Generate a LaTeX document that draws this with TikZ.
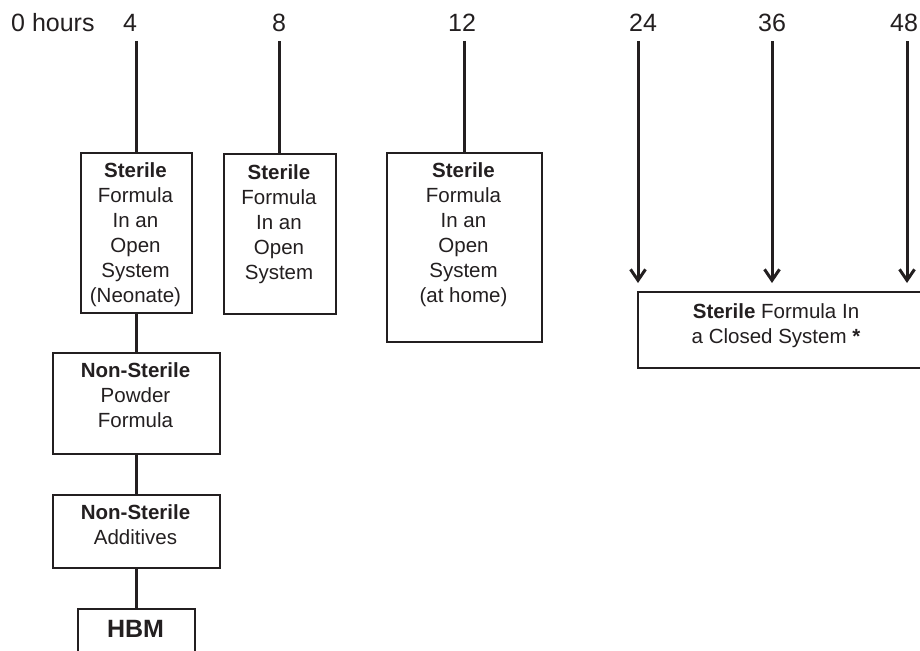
\documentclass[tikz,border=0pt]{standalone}
\usepackage{fontspec}
\setmainfont{Liberation Sans}
\usetikzlibrary{arrows.meta}
\definecolor{ink}{RGB}{35,31,32}
\begin{document}
\begin{tikzpicture}[x=1pt,y=-1pt,
  boxst/.style={draw=ink, line width=1.8pt, inner sep=0pt, anchor=north west},
  txt/.style={inner sep=0pt, anchor=north, align=center, text=ink, font=\fontsize{20.5}{25}\selectfont},
  hour/.style={inner sep=0pt, outer ysep=9pt, anchor=base, text=ink, font=\fontsize{25}{30}\selectfont},
  conn/.style={line width=3pt, draw=ink},
  arr/.style={conn, -{Straight Barb[length=11pt,width=15pt]}, shorten >=0pt}]
\path[use as bounding box, fill=white] (0,0) rectangle (920,650);

% hour labels
\node[hour, anchor=base west] (l0) at (11,32) {0 hours};
\node[hour] (l4) at (130,32) {4};
\node[hour] (l8) at (279,32) {8};
\node[hour] (l12) at (462,32) {12};
\node[hour] (l24) at (643,32) {24};
\node[hour] (l36) at (772,32) {36};
\node[hour] (l48) at (904,32) {48};

% boxes
\node[boxst, minimum width=111pt, minimum height=160pt] (b1) at (80,152) {};
\node[boxst, minimum width=112pt, minimum height=160pt] (b2) at (223,153) {};
\node[boxst, minimum width=155pt, minimum height=189pt] (b3) at (386,152) {};
\node[boxst, minimum width=290pt, minimum height=76pt] (b4) at (637,291) {};
\node[boxst, minimum width=167pt, minimum height=101pt] (b5) at (52,352) {};
\node[boxst, minimum width=167pt, minimum height=73pt] (b6) at (52,494) {};
\node[boxst, minimum width=117pt, minimum height=60pt] (b7) at (77,608) {};

% texts
\node[txt] (t1) at (135.5,162.3) {\textbf{Sterile}\\Formula\\In an\\Open\\System\\(Neonate)};
\node[txt] (t2) at (279,164.3) {\textbf{Sterile}\\Formula\\In an\\Open\\System};
\node[txt] (t3) at (463.5,162.3) {\textbf{Sterile}\\Formula\\In an\\Open\\System\\(at home)};
\node[txt] (t4) at (776,303.3) {\textbf{Sterile} Formula In\\a Closed System \textbf{*}};
\node[txt] (t5) at (135.5,362.3) {\textbf{Non-Sterile}\\Powder\\Formula};
\node[txt] (t6) at (135.5,504.3) {\textbf{Non-Sterile}\\Additives};
\node[txt, font=\bfseries\fontsize{25}{30}\selectfont] (t7) at (135.5,620) {HBM};

% connectors
\draw[conn] (b1.north |- l4.south) -- (b1.north);
\draw[conn] (b2.north |- l8.south) -- (b2.north);
\draw[conn] (b3.north |- l12.south) -- (b3.north);
\draw[conn] (b1.south) -- (b5.north);
\draw[conn] (b5.south) -- (b6.north);
\draw[conn] (b6.south) -- (b7.north);

\coordinate (a24) at (638,283);
\coordinate (a36) at (772,283);
\coordinate (a48) at (907,283);
\draw[arr] (a24 |- l24.south) -- (a24);
\draw[arr] (a36 |- l36.south) -- (a36);
\draw[arr] (a48 |- l48.south) -- (a48);
\end{tikzpicture}
\end{document}
